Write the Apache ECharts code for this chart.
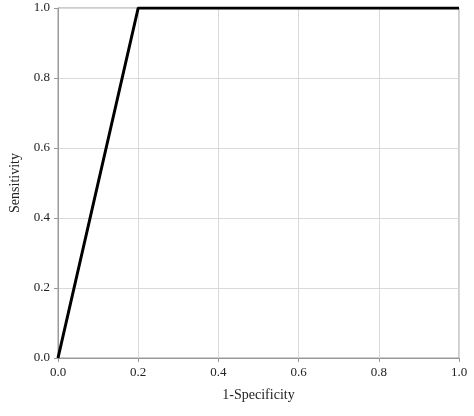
<!DOCTYPE html>
<html><head><meta charset="utf-8">
<script src="https://cdn.jsdelivr.net/npm/echarts@6/dist/echarts.min.js"></script>
<style>html,body{margin:0;background:#fff}#main{width:474px;height:416px}</style>
</head><body><div id="main"></div>
<script>
const fpr = [0.0, 0.2, 1.0];
const tpr = [0.0, 1.0, 1.0];
const ticks = ['0.0', '0.2', '0.4', '0.6', '0.8', '1.0'];

const chart = echarts.init(document.getElementById('main'));
const font = 'Liberation Serif';
const axisCommon = {
  type: 'value', min: 0, max: 1, interval: 0.2,
  axisLine: { show: true, lineStyle: { color: '#999', width: 1 } },
  axisTick: { show: true, length: 4, lineStyle: { color: '#999' } },
  splitLine: { show: true, lineStyle: { color: '#d9d9d9', width: 1 } },
  axisLabel: { color: '#222', fontFamily: font, fontSize: 13,
    formatter: v => ticks[Math.round(v / 0.2)] },
  nameLocation: 'middle',
  nameTextStyle: { color: '#222', fontFamily: font, fontSize: 14 }
};
chart.setOption({
  animation: false,
  grid: { left: 58, right: 15, top: 8, bottom: 58, show: true, borderColor: '#999', borderWidth: 1 },
  xAxis: Object.assign({}, axisCommon, { name: '1-Specificity', nameGap: 30 }),
  yAxis: Object.assign({}, axisCommon, { name: 'Sensitivity', nameGap: 36 }),
  series: [{
    type: 'line', data: fpr.map((x, i) => [x, tpr[i]]),
    symbol: 'none', lineStyle: { color: '#000', width: 3 }
  }]
});
</script></body></html>
